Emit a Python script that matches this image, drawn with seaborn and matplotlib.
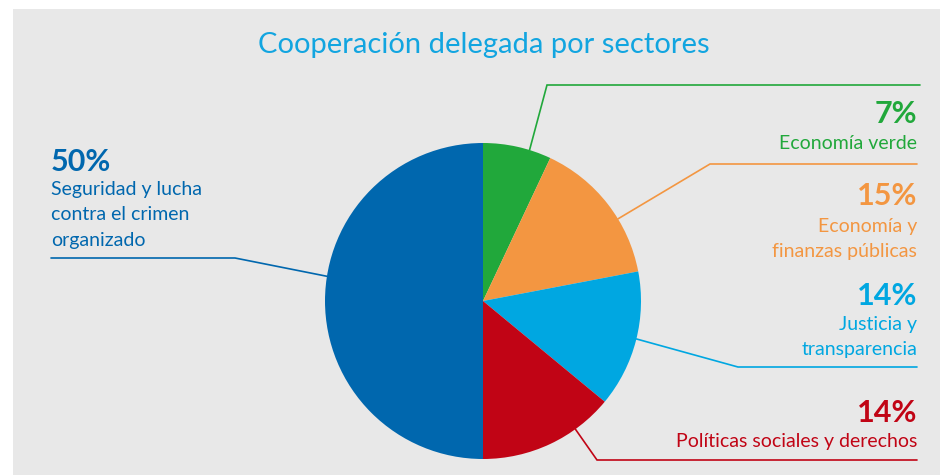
import numpy as np
import seaborn as sns
import matplotlib.pyplot as plt
from matplotlib.patches import Rectangle

sns.set_theme(style="white")
plt.rcParams["font.family"] = ["Lato", "DejaVu Sans"]

# data
sectors = [["Seguridad y lucha", "contra el crimen", "organizado"],
           ["Economía verde"],
           ["Economía y", "finanzas públicas"],
           ["Justicia y", "transparencia"],
           ["Políticas sociales y derechos"]]
shares = [50, 7, 15, 14, 14]
pct_labels = ["50%", "7%", "15%", "14%", "14%"]
colors = sns.color_palette(["#0067ae", "#21a83b", "#f39641", "#00a7e1", "#c10415"])

title = "Cooperación delegada por sectores"

W, H = 940, 475
fig = plt.figure(figsize=(W / 100, H / 100), dpi=100)
fig.patch.set_facecolor("white")
ax = fig.add_axes([0, 0, 1, 1])

def Y(y):
    # pixel row -> data y (y axis goes up)
    return H - y

# paper background with white margin top/left
ax.add_patch(Rectangle((13, 0), W - 13, H - 9, facecolor="#e8e8e8", edgecolor="none", zorder=0))

# pie: clockwise from top, green first, big blue half last
order = [1, 2, 3, 4, 0]
cx, cy, r = 483, Y(301), 158
wedges, _ = ax.pie([shares[i] for i in order], colors=[colors[i] for i in order],
                   startangle=90, counterclock=False, center=(cx, cy), radius=r,
                   frame=True, wedgeprops=dict(linewidth=0))
for w in wedges:
    w.set_zorder(2)

# leader layout: clockwise fraction inside wedge, elbow point, end x, text anchor
layout = {
    1: dict(frac=0.68, elbow=(547, 85), end=920, tx=917, ha="right", pct_y=123, lab_y=149),
    2: dict(frac=0.62, elbow=(710, 164), end=917, tx=917, ha="right", pct_y=205, lab_y=232),
    3: dict(frac=0.49, elbow=(738, 367), end=917, tx=917, ha="right", pct_y=305, lab_y=330),
    4: dict(frac=0.29, elbow=(597, 460), end=917, tx=917, ha="right", pct_y=422, lab_y=447),
    0: dict(frac=0.55, elbow=(235, 258), end=51, tx=51, ha="left", pct_y=171, lab_y=195),
}
line_gap = 25.5

for w, i in zip(wedges, order):
    L = layout[i]
    t1, t2 = w.theta1, w.theta2
    ang = np.deg2rad(t2 - (t2 - t1) * L["frac"])
    x0, y0 = cx + r * np.cos(ang), cy + r * np.sin(ang)
    ex, ey = L["elbow"]
    ax.plot([x0, ex, L["end"]], [y0, Y(ey), Y(ey)], color=colors[i], lw=1.2,
            solid_joinstyle="miter", zorder=1)
    ax.text(L["tx"], Y(L["pct_y"]), pct_labels[i], color=colors[i], fontsize=22,
            fontweight="bold", ha=L["ha"], va="baseline", zorder=3)
    for k, line in enumerate(sectors[i]):
        ax.text(L["tx"], Y(L["lab_y"] + k * line_gap), line, color=colors[i],
                fontsize=14, ha=L["ha"], va="baseline", zorder=3)

ax.text(484, Y(53), title, color="#12a5e0", fontsize=21,
        ha="center", va="baseline", zorder=3)

ax.set_xlim(0, W)
ax.set_ylim(0, H)
ax.set_aspect("equal")
ax.axis("off")

fig.savefig("out.png", dpi=100, facecolor=fig.get_facecolor())
